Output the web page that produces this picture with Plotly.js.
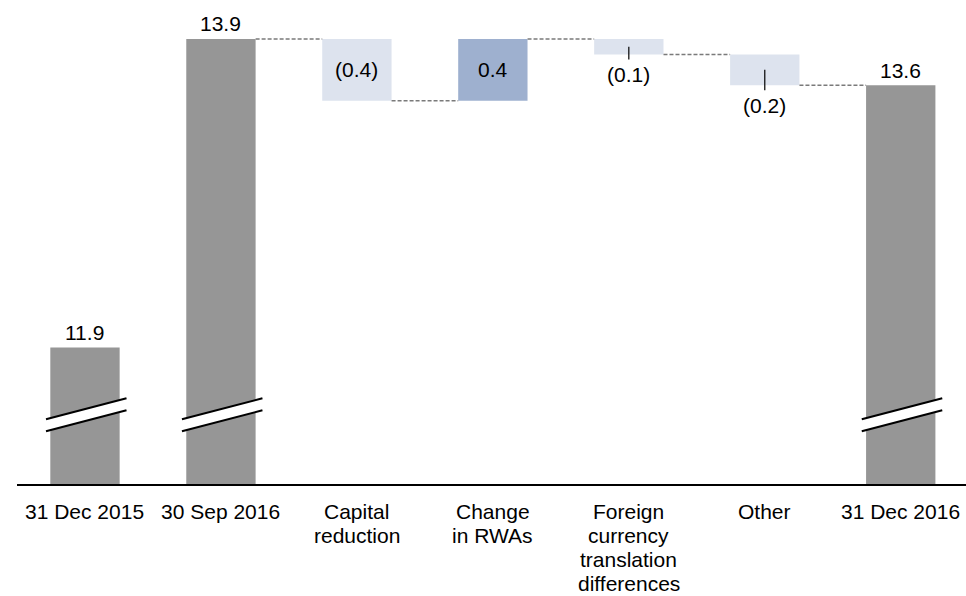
<!DOCTYPE html>
<html>
<head>
<meta charset="utf-8">
<script src="https://cdn.plot.ly/plotly-3.0.1.min.js"></script>
<style>
  html, body { margin: 0; padding: 0; background: #ffffff; }
  #chart { width: 966px; height: 596px; }
</style>
</head>
<body>
<div id="chart"></div>
<script>
// ---- data ----
const categories = ['31 Dec 2015', '30 Sep 2016', 'Capital<br>reduction', 'Change<br>in RWAs',
                    'Foreign<br>currency<br>translation<br>differences', 'Other', '31 Dec 2016'];
const measures = ['absolute', 'absolute', 'relative', 'relative', 'relative', 'relative', 'absolute'];
const values = [11.9, 13.9, -0.4, 0.4, -0.1, -0.2, 13.6];
const valueLabels = ['11.9', '13.9', '(0.4)', '0.4', '(0.1)', '(0.2)', '13.6'];
const labelPlacement = ['above', 'above', 'inside', 'inside', 'below', 'below', 'above'];

// ---- style / layout constants ----
const W = 966, H = 596;
const M = { l: 17, r: 0, t: 8, b: 112 };
const Y_MIN = 11.014;
const PX_PER_UNIT = 154.2;
const plotH = H - M.t - M.b;
const Y_MAX = Y_MIN + plotH / PX_PER_UNIT;
const BAR_W = 0.51;
const BREAK_AT = 11.46;
const FONT = 'Liberation Sans, Arial, Helvetica, sans-serif';
const FS = 21;
const CAT_FIRST = 13.5, CAT_GAP = 24;
const C_TOTAL = '#969696', C_DOWN = '#dde3ee', C_UP = '#9eb0cf';

// ---- derive bars ----
const bases = [], heights = [], colors = [], tops = [], bottoms = [], ends = [];
let running = 0;
for (let i = 0; i < values.length; i++) {
  if (measures[i] === 'absolute') {
    bases.push(0); heights.push(values[i]); colors.push(C_TOTAL);
    running = values[i];
    tops.push(values[i]); bottoms.push(0);
  } else {
    bases.push(running); heights.push(values[i]);
    colors.push(values[i] < 0 ? C_DOWN : C_UP);
    const next = running + values[i];
    tops.push(Math.max(running, next)); bottoms.push(Math.min(running, next));
    running = next;
  }
  ends.push(running);
}

const trace = {
  type: 'bar',
  x: categories,
  y: heights,
  base: bases,
  width: BAR_W,
  marker: { color: colors, line: { width: 0 } },
  hoverinfo: 'skip',
  showlegend: false
};

const shapes = [];
const annotations = [];

// connectors
for (let i = 0; i < values.length - 1; i++) {
  if (measures[i] === 'absolute' && measures[i + 1] === 'absolute') continue;
  shapes.push({
    type: 'line', xref: 'x', yref: 'y', layer: 'above',
    x0: i + BAR_W / 2, x1: i + 1 - BAR_W / 2, y0: ends[i], y1: ends[i],
    line: { color: '#7a7a7a', width: 1.5, dash: '4px,2px' }
  });
}

// break marks on totals
for (let i = 0; i < values.length; i++) {
  if (measures[i] !== 'absolute') continue;
  const common = { xref: 'x', yref: 'y', xsizemode: 'pixel', ysizemode: 'pixel',
                   xanchor: i, yanchor: BREAK_AT, layer: 'above' };
  shapes.push(Object.assign({}, common, {
    type: 'path', path: 'M-39,-4 L41.5,17 L41.5,5 L-39,-16 Z',
    fillcolor: '#ffffff', line: { width: 0 }
  }));
  shapes.push(Object.assign({}, common, {
    type: 'path', path: 'M-39,-4 L41.5,17', line: { color: '#000000', width: 2 }
  }));
  shapes.push(Object.assign({}, common, {
    type: 'path', path: 'M-39,-16 L41.5,5', line: { color: '#000000', width: 2 }
  }));
}

// value labels
for (let i = 0; i < values.length; i++) {
  const a = { x: categories[i], xref: 'x', yref: 'y', text: valueLabels[i], showarrow: false,
              font: { family: FONT, size: FS, color: '#000000' }, xanchor: 'center', yanchor: 'middle' };
  if (labelPlacement[i] === 'above') {
    a.y = tops[i]; a.yshift = 15;
  } else if (labelPlacement[i] === 'inside') {
    a.y = (tops[i] + bottoms[i]) / 2;
  } else {
    a.y = bottoms[i]; a.yshift = -20;
    shapes.push({
      type: 'line', xref: 'x', yref: 'y', layer: 'above',
      x0: i, x1: i, y0: (tops[i] + bottoms[i]) / 2, y1: bottoms[i] - 5 / PX_PER_UNIT,
      line: { color: '#000000', width: 1.2 }
    });
  }
  annotations.push(a);
}

// category labels (one text line each, tighter line spacing than Plotly's default)
categories.forEach(function (cat, i) {
  cat.split('<br>').forEach(function (line, j) {
    annotations.push({
      x: cat, xref: 'x', y: 0, yref: 'paper', text: line, showarrow: false,
      xanchor: 'center', yanchor: 'top', yshift: -(CAT_FIRST + j * CAT_GAP),
      font: { family: FONT, size: FS, color: '#000000' }
    });
  });
});

const layout = {
  width: W, height: H,
  margin: M,
  paper_bgcolor: '#ffffff', plot_bgcolor: '#ffffff',
  font: { family: FONT, size: FS, color: '#000000' },
  bargap: 0.49,
  showlegend: false,
  hovermode: false,
  xaxis: {
    type: 'category',
    range: [-0.5, 6.48],
    showline: true, linecolor: '#000000', linewidth: 2,
    showgrid: false, zeroline: false, ticks: '',
    showticklabels: false,
    fixedrange: true
  },
  yaxis: {
    range: [Y_MIN, Y_MAX],
    visible: false, showgrid: false, zeroline: false, fixedrange: true
  },
  shapes: shapes,
  annotations: annotations
};

Plotly.newPlot('chart', [trace], layout, { displayModeBar: false, staticPlot: true });
</script>
</body>
</html>
